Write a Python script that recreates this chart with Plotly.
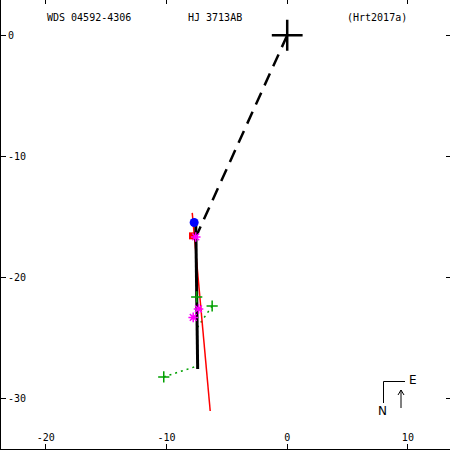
import plotly.graph_objects as go

# ---- data (arcsec offsets) ----
title_left = "WDS 04592-4306"
title_mid = "HJ 3713AB"
title_right = "(Hrt2017a)"

x_ticks = [-20, -10, 0, 10]
x_tick_labels = ["-20", "-10", "0", "10"]
y_ticks = [0, -10, -20, -30]
y_tick_labels = ["0", "-10", "-20", "-30"]

primary_x = [0.0]
primary_y = [0.0]

node_line_x = [0.0, -7.5]
node_line_y = [0.0, -16.5]

orbit_x = [-7.58, -7.42]
orbit_y = [-15.32, -27.53]

red_line_x = [-7.87, -6.38]
red_line_y = [-14.66, -31.0]

blue_x = [-7.71]
blue_y = [-15.45]

red_pt_x = [-7.85]
red_pt_y = [-16.55]

magenta_x = [-7.58, -7.35, -7.79]
magenta_y = [-16.64, -22.58, -23.28]

green_x = [-6.22, -10.23, -7.50]
green_y = [-22.34, -28.19, -21.59]

# O-C segments: observation -> predicted
oc_from_x = [-6.22, -10.23]
oc_from_y = [-22.34, -28.19]
oc_to_x = [-7.42, -7.46]
oc_to_y = [-24.07, -27.29]

GREEN = "#00a000"
MAGENTA = "#ff00ff"
fig = go.Figure()

# O-C dotted lines
for fx, fy, tx, ty in zip(oc_from_x, oc_from_y, oc_to_x, oc_to_y):
    fig.add_trace(go.Scatter(x=[fx, tx], y=[fy, ty], mode="lines",
                             line=dict(color=GREEN, width=1.5, dash="2px,4px"),
                             hoverinfo="skip", showlegend=False))

# red line
fig.add_trace(go.Scatter(x=red_line_x, y=red_line_y, mode="lines",
                         line=dict(color="#ff0000", width=1.5), showlegend=False))

# red point
fig.add_trace(go.Scatter(x=red_pt_x, y=red_pt_y, mode="markers",
                         marker=dict(symbol="square", size=7, color="#ff0000"),
                         showlegend=False))

# orbit
fig.add_trace(go.Scatter(x=orbit_x, y=orbit_y, mode="lines",
                         line=dict(color="black", width=3), showlegend=False))

# line of nodes (dashed)
fig.add_trace(go.Scatter(x=node_line_x, y=node_line_y, mode="lines",
                         line=dict(color="black", width=2.5, dash="13px,8px"),
                         showlegend=False))

# blue point
fig.add_trace(go.Scatter(x=blue_x, y=blue_y, mode="markers",
                         marker=dict(symbol="circle", size=9, color="#0000ff"),
                         showlegend=False))

# magenta asterisks
fig.add_trace(go.Scatter(x=magenta_x, y=magenta_y, mode="markers",
                         marker=dict(symbol="asterisk-open", size=8, color=MAGENTA,
                                     line=dict(color=MAGENTA, width=1.5)),
                         showlegend=False))

# green pluses
fig.add_trace(go.Scatter(x=green_x, y=green_y, mode="markers",
                         marker=dict(symbol="cross-thin-open", size=8, color=GREEN,
                                     line=dict(color=GREEN, width=1.5)),
                         showlegend=False))

# primary
fig.add_trace(go.Scatter(x=primary_x, y=primary_y, mode="markers",
                         marker=dict(symbol="cross-thin-open", size=22, color="black",
                                     line=dict(color="black", width=2.5)),
                         showlegend=False))

# dummy trace on top/right axes for mirrored ticks
fig.add_trace(go.Scatter(x=[None], y=[None], xaxis="x2", yaxis="y2",
                         showlegend=False))

W = H = 450
XR = [-23.80, 13.49]
YR = [-34.22, 2.91]
FONT = dict(family="DejaVu Sans Mono", size=10, color="black")

fig.update_layout(
    width=W, height=H, margin=dict(l=0, r=0, t=0, b=0),
    paper_bgcolor="white", plot_bgcolor="white",
    font=FONT,
    xaxis=dict(range=XR, showgrid=False, zeroline=False, showline=False,
               ticks="inside", ticklen=6,
               tickcolor="black", tickvals=x_ticks, ticktext=x_tick_labels,
               ticklabelposition="inside", tickfont=FONT),
    yaxis=dict(range=YR, showgrid=False, zeroline=False, showline=False,
               ticks="inside", ticklen=6,
               tickcolor="black", tickvals=y_ticks, ticktext=y_tick_labels,
               ticklabelposition="inside", tickfont=FONT, ticklabelstandoff=1),
    xaxis2=dict(range=XR, overlaying="x", side="top", showgrid=False,
                zeroline=False, showline=False, ticks="inside", ticklen=4,
                tickcolor="black", tickvals=x_ticks, showticklabels=False),
    yaxis2=dict(range=YR, overlaying="y", side="right", showgrid=False,
                zeroline=False, showline=False, ticks="inside", ticklen=4,
                tickcolor="black", tickvals=y_ticks, showticklabels=False),
)

def px(x):
    return x / W

def py(y):
    return 1 - y / H

# frame lines (left and bottom)
fig.add_shape(type="line", xref="paper", yref="paper", x0=0, y0=0, x1=0, y1=1,
              line=dict(color="black", width=2))
fig.add_shape(type="line", xref="paper", yref="paper", x0=0, y0=0, x1=1, y1=0,
              line=dict(color="black", width=2))

annos = [
    (title_left, 45, 17),
    (title_mid, 186, 17),
    (title_right, 345, 17),
]
for txt, x0, y0 in annos:
    fig.add_annotation(text=txt, x=px(x0), y=py(y0), xref="paper", yref="paper",
                       xanchor="left", yanchor="middle", showarrow=False, font=FONT)

# compass
fig.add_shape(type="line", xref="paper", yref="paper", x0=px(383.5), y0=py(381.5),
              x1=px(405), y1=py(381.5), line=dict(color="black", width=1))
fig.add_shape(type="line", xref="paper", yref="paper", x0=px(383.5), y0=py(381.5),
              x1=px(383.5), y1=py(403), line=dict(color="black", width=1))
fig.add_shape(type="line", xref="paper", yref="paper", x0=px(401), y0=py(390),
              x1=px(401), y1=py(408), line=dict(color="black", width=1))
fig.add_shape(type="line", xref="paper", yref="paper", x0=px(401), y0=py(390),
              x1=px(398), y1=py(395), line=dict(color="black", width=1))
fig.add_shape(type="line", xref="paper", yref="paper", x0=px(401), y0=py(390),
              x1=px(404), y1=py(395), line=dict(color="black", width=1))
fig.add_annotation(text="E", x=px(413), y=py(379.5), xref="paper", yref="paper",
                   xanchor="center", yanchor="middle",
                   showarrow=False, font=dict(family="DejaVu Sans", size=12, color="black"))
fig.add_annotation(text="N", x=px(382.5), y=py(410.5), xref="paper", yref="paper",
                   xanchor="center", yanchor="middle",
                   showarrow=False, font=dict(family="DejaVu Sans", size=12, color="black"))

fig.write_html("out.html", config=dict(displayModeBar=False),
               post_script="document.body.style.margin='0';document.body.style.padding='0';")
